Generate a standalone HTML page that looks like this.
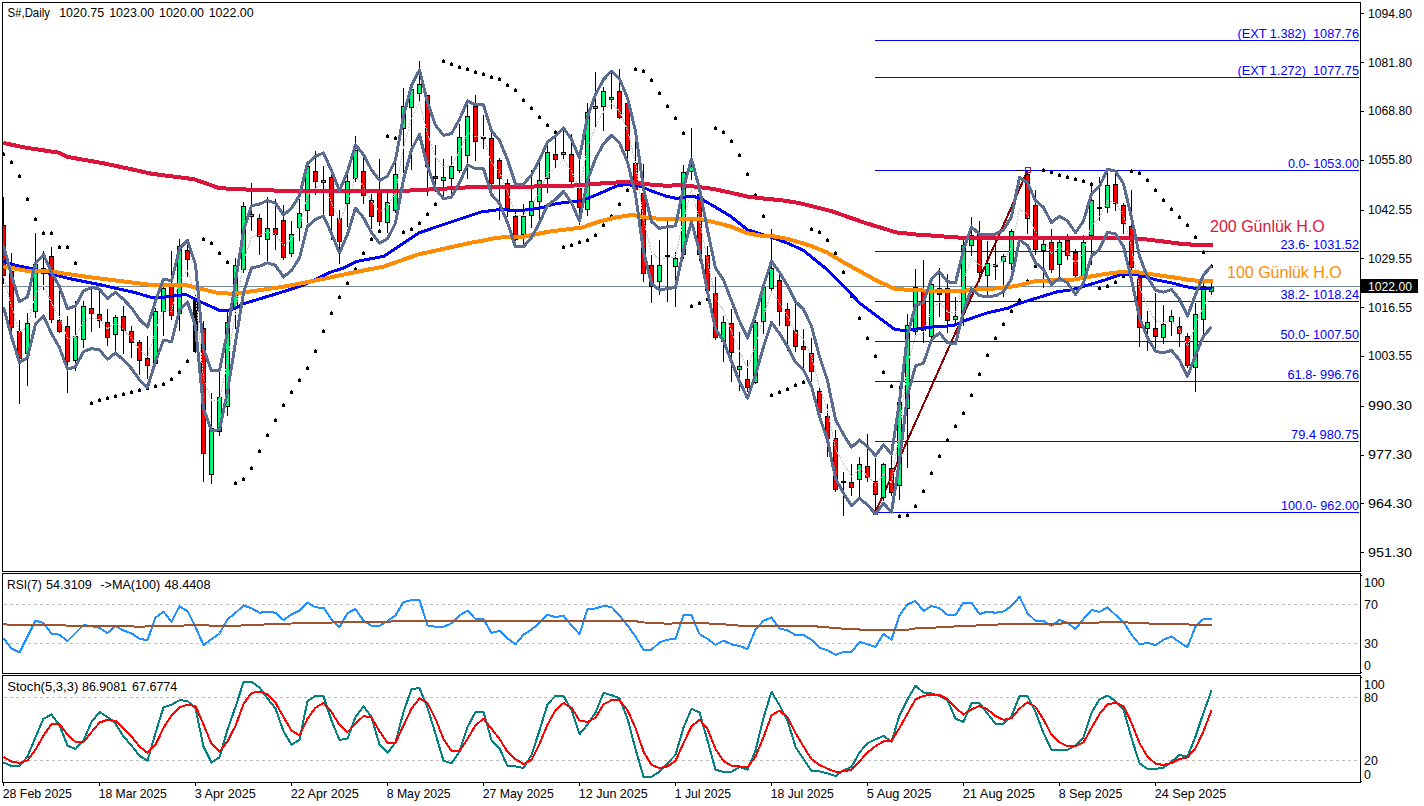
<!DOCTYPE html>
<html><head><meta charset="utf-8"><title>S# Daily</title>
<style>
html,body{margin:0;padding:0;background:#fff}
svg{display:block}
text{font-family:"Liberation Sans",sans-serif;font-size:12.4px;fill:#000}
.b{fill:#00f}
</style></head><body>
<svg width="1424" height="806" viewBox="0 0 1424 806">
<rect width="1424" height="806" fill="#fff"/>
<g shape-rendering="crispEdges">
<clipPath id="cm"><rect x="3" y="3" width="1357" height="568"/></clipPath>
<clipPath id="cr"><rect x="3" y="574" width="1357" height="99"/></clipPath>
<clipPath id="cs"><rect x="3" y="676" width="1357" height="106"/></clipPath>
<g clip-path="url(#cm)">
<rect x="3" y="286" width="1357" height="1" fill="#778899"/>
<rect x="875" y="40" width="484" height="1" fill="#00f"/>
<rect x="875" y="77" width="484" height="1" fill="#00f"/>
<rect x="875" y="170" width="484" height="1" fill="#00f"/>
<rect x="875" y="251" width="484" height="1" fill="#00f"/>
<rect x="875" y="301" width="484" height="1" fill="#00f"/>
<rect x="875" y="341" width="484" height="1" fill="#00f"/>
<rect x="875" y="381" width="484" height="1" fill="#00f"/>
<rect x="875" y="441" width="484" height="1" fill="#00f"/>
<rect x="875" y="512" width="484" height="1" fill="#00f"/>
<line x1="875.5" y1="512" x2="1027.5" y2="171" stroke="#8b0000" stroke-width="2"/>
<rect x="873" y="510" width="5" height="5" fill="#b00018"/>
<rect x="3" y="197" width="1" height="87" fill="#000"/><rect x="1" y="225" width="5" height="51" fill="#000"/><rect x="2" y="226" width="3" height="49" fill="#f00"/>
<rect x="11" y="253" width="1" height="85" fill="#000"/><rect x="9" y="271" width="5" height="57" fill="#000"/><rect x="10" y="272" width="3" height="55" fill="#f00"/>
<rect x="19" y="320" width="1" height="84" fill="#000"/><rect x="17" y="331" width="5" height="28" fill="#000"/><rect x="18" y="332" width="3" height="26" fill="#f00"/>
<rect x="27" y="313" width="1" height="73" fill="#000"/><rect x="25" y="323" width="5" height="31" fill="#000"/><rect x="26" y="324" width="3" height="29" fill="#00f57a"/>
<rect x="35" y="233" width="1" height="85" fill="#000"/><rect x="33" y="264" width="5" height="48" fill="#000"/><rect x="34" y="265" width="3" height="46" fill="#00f57a"/>
<rect x="43" y="251" width="1" height="39" fill="#000"/><rect x="41" y="268" width="5" height="6" fill="#000"/><rect x="42" y="269" width="3" height="4" fill="#f00"/>
<rect x="51" y="247" width="1" height="76" fill="#000"/><rect x="49" y="256" width="5" height="64" fill="#000"/><rect x="50" y="257" width="3" height="62" fill="#f00"/>
<rect x="59" y="290" width="1" height="43" fill="#000"/><rect x="57" y="320" width="5" height="12" fill="#000"/><rect x="58" y="321" width="3" height="10" fill="#f00"/>
<rect x="67" y="316" width="1" height="77" fill="#000"/><rect x="65" y="326" width="5" height="36" fill="#000"/><rect x="66" y="327" width="3" height="34" fill="#f00"/>
<rect x="75" y="301" width="1" height="70" fill="#000"/><rect x="73" y="336" width="5" height="25" fill="#000"/><rect x="74" y="337" width="3" height="23" fill="#00f57a"/>
<rect x="83" y="301" width="1" height="47" fill="#000"/><rect x="81" y="306" width="5" height="34" fill="#000"/><rect x="82" y="307" width="3" height="32" fill="#00f57a"/>
<rect x="91" y="288" width="1" height="44" fill="#000"/><rect x="89" y="308" width="5" height="6" fill="#000"/><rect x="90" y="309" width="3" height="4" fill="#f00"/>
<rect x="99" y="288" width="1" height="40" fill="#000"/><rect x="97" y="314" width="5" height="7" fill="#000"/><rect x="98" y="315" width="3" height="5" fill="#f00"/>
<rect x="107" y="309" width="1" height="37" fill="#000"/><rect x="105" y="322" width="5" height="16" fill="#000"/><rect x="106" y="323" width="3" height="14" fill="#f00"/>
<rect x="115" y="315" width="1" height="37" fill="#000"/><rect x="113" y="317" width="5" height="18" fill="#000"/><rect x="114" y="318" width="3" height="16" fill="#00f57a"/>
<rect x="123" y="306" width="1" height="48" fill="#000"/><rect x="121" y="316" width="5" height="15" fill="#000"/><rect x="122" y="317" width="3" height="13" fill="#f00"/>
<rect x="131" y="326" width="1" height="32" fill="#000"/><rect x="129" y="331" width="5" height="12" fill="#000"/><rect x="130" y="332" width="3" height="10" fill="#f00"/>
<rect x="139" y="340" width="1" height="35" fill="#000"/><rect x="137" y="342" width="5" height="19" fill="#000"/><rect x="138" y="343" width="3" height="17" fill="#f00"/>
<rect x="147" y="336" width="1" height="43" fill="#000"/><rect x="145" y="358" width="5" height="8" fill="#000"/><rect x="146" y="359" width="3" height="6" fill="#f00"/>
<rect x="155" y="308" width="1" height="58" fill="#000"/><rect x="153" y="311" width="5" height="53" fill="#000"/><rect x="154" y="312" width="3" height="51" fill="#00f57a"/>
<rect x="163" y="278" width="1" height="58" fill="#000"/><rect x="161" y="288" width="5" height="24" fill="#000"/><rect x="162" y="289" width="3" height="22" fill="#00f57a"/>
<rect x="171" y="251" width="1" height="69" fill="#000"/><rect x="169" y="283" width="5" height="33" fill="#000"/><rect x="170" y="284" width="3" height="31" fill="#f00"/>
<rect x="179" y="239" width="1" height="92" fill="#000"/><rect x="177" y="246" width="5" height="68" fill="#000"/><rect x="178" y="247" width="3" height="66" fill="#00f57a"/>
<rect x="187" y="240" width="1" height="37" fill="#000"/><rect x="185" y="250" width="5" height="10" fill="#000"/><rect x="186" y="251" width="3" height="8" fill="#f00"/>
<rect x="195" y="294" width="1" height="59" fill="#000"/><rect x="193" y="299" width="5" height="53" fill="#000"/><rect x="194" y="300" width="3" height="51" fill="#000"/>
<rect x="203" y="321" width="1" height="161" fill="#000"/><rect x="201" y="328" width="5" height="126" fill="#000"/><rect x="202" y="329" width="3" height="124" fill="#f00"/>
<rect x="211" y="393" width="1" height="91" fill="#000"/><rect x="209" y="428" width="5" height="47" fill="#000"/><rect x="210" y="429" width="3" height="45" fill="#00f57a"/>
<rect x="219" y="366" width="1" height="70" fill="#000"/><rect x="217" y="397" width="5" height="35" fill="#000"/><rect x="218" y="398" width="3" height="33" fill="#00f57a"/>
<rect x="227" y="312" width="1" height="104" fill="#000"/><rect x="225" y="322" width="5" height="85" fill="#000"/><rect x="226" y="323" width="3" height="83" fill="#00f57a"/>
<rect x="235" y="258" width="1" height="71" fill="#000"/><rect x="233" y="265" width="5" height="43" fill="#000"/><rect x="234" y="266" width="3" height="41" fill="#00f57a"/>
<rect x="243" y="202" width="1" height="71" fill="#000"/><rect x="241" y="206" width="5" height="64" fill="#000"/><rect x="242" y="207" width="3" height="62" fill="#00f57a"/>
<rect x="251" y="183" width="1" height="48" fill="#000"/><rect x="249" y="214" width="5" height="3" fill="#000"/><rect x="250" y="215" width="3" height="1" fill="#00f57a"/>
<rect x="259" y="214" width="1" height="41" fill="#000"/><rect x="257" y="218" width="5" height="19" fill="#000"/><rect x="258" y="219" width="3" height="17" fill="#f00"/>
<rect x="267" y="197" width="1" height="64" fill="#000"/><rect x="265" y="228" width="5" height="12" fill="#000"/><rect x="266" y="229" width="3" height="10" fill="#00f57a"/>
<rect x="275" y="199" width="1" height="51" fill="#000"/><rect x="273" y="228" width="5" height="7" fill="#000"/><rect x="274" y="229" width="3" height="5" fill="#f00"/>
<rect x="283" y="205" width="1" height="55" fill="#000"/><rect x="281" y="220" width="5" height="38" fill="#000"/><rect x="282" y="221" width="3" height="36" fill="#f00"/>
<rect x="291" y="221" width="1" height="36" fill="#000"/><rect x="289" y="234" width="5" height="20" fill="#000"/><rect x="290" y="235" width="3" height="18" fill="#00f57a"/>
<rect x="299" y="199" width="1" height="42" fill="#000"/><rect x="297" y="213" width="5" height="15" fill="#000"/><rect x="298" y="214" width="3" height="13" fill="#00f57a"/>
<rect x="307" y="164" width="1" height="59" fill="#000"/><rect x="305" y="166" width="5" height="45" fill="#000"/><rect x="306" y="167" width="3" height="43" fill="#00f57a"/>
<rect x="315" y="151" width="1" height="44" fill="#000"/><rect x="313" y="171" width="5" height="11" fill="#000"/><rect x="314" y="172" width="3" height="9" fill="#f00"/>
<rect x="323" y="166" width="1" height="48" fill="#000"/><rect x="321" y="180" width="5" height="3" fill="#000"/><rect x="322" y="181" width="3" height="1" fill="#00f57a"/>
<rect x="331" y="174" width="1" height="66" fill="#000"/><rect x="329" y="177" width="5" height="39" fill="#000"/><rect x="330" y="178" width="3" height="37" fill="#f00"/>
<rect x="339" y="210" width="1" height="54" fill="#000"/><rect x="337" y="218" width="5" height="24" fill="#000"/><rect x="338" y="219" width="3" height="22" fill="#f00"/>
<rect x="347" y="174" width="1" height="53" fill="#000"/><rect x="345" y="181" width="5" height="23" fill="#000"/><rect x="346" y="182" width="3" height="21" fill="#00f57a"/>
<rect x="355" y="136" width="1" height="46" fill="#000"/><rect x="353" y="150" width="5" height="29" fill="#000"/><rect x="354" y="151" width="3" height="27" fill="#00f57a"/>
<rect x="363" y="158" width="1" height="46" fill="#000"/><rect x="361" y="171" width="5" height="25" fill="#000"/><rect x="362" y="172" width="3" height="23" fill="#f00"/>
<rect x="371" y="194" width="1" height="35" fill="#000"/><rect x="369" y="200" width="5" height="17" fill="#000"/><rect x="370" y="201" width="3" height="15" fill="#f00"/>
<rect x="379" y="159" width="1" height="67" fill="#000"/><rect x="377" y="190" width="5" height="32" fill="#000"/><rect x="378" y="191" width="3" height="30" fill="#f00"/>
<rect x="387" y="189" width="1" height="44" fill="#000"/><rect x="385" y="202" width="5" height="21" fill="#000"/><rect x="386" y="203" width="3" height="19" fill="#00f57a"/>
<rect x="395" y="162" width="1" height="51" fill="#000"/><rect x="393" y="174" width="5" height="37" fill="#000"/><rect x="394" y="175" width="3" height="35" fill="#00f57a"/>
<rect x="403" y="88" width="1" height="85" fill="#000"/><rect x="401" y="106" width="5" height="23" fill="#000"/><rect x="402" y="107" width="3" height="21" fill="#00f57a"/>
<rect x="411" y="88" width="1" height="82" fill="#000"/><rect x="409" y="89" width="5" height="19" fill="#000"/><rect x="410" y="90" width="3" height="17" fill="#00f57a"/>
<rect x="419" y="61" width="1" height="40" fill="#000"/><rect x="417" y="84" width="5" height="10" fill="#000"/><rect x="418" y="85" width="3" height="8" fill="#00f57a"/>
<rect x="427" y="95" width="1" height="101" fill="#000"/><rect x="425" y="95" width="5" height="72" fill="#000"/><rect x="426" y="96" width="3" height="70" fill="#f00"/>
<rect x="435" y="145" width="1" height="47" fill="#000"/><rect x="433" y="176" width="5" height="3" fill="#000"/><rect x="434" y="177" width="3" height="1" fill="#f00"/>
<rect x="443" y="159" width="1" height="37" fill="#000"/><rect x="441" y="177" width="5" height="4" fill="#000"/><rect x="442" y="178" width="3" height="2" fill="#00f57a"/>
<rect x="451" y="156" width="1" height="39" fill="#000"/><rect x="449" y="166" width="5" height="13" fill="#000"/><rect x="450" y="167" width="3" height="11" fill="#00f57a"/>
<rect x="459" y="124" width="1" height="49" fill="#000"/><rect x="457" y="137" width="5" height="34" fill="#000"/><rect x="458" y="138" width="3" height="32" fill="#00f57a"/>
<rect x="467" y="101" width="1" height="78" fill="#000"/><rect x="465" y="116" width="5" height="40" fill="#000"/><rect x="466" y="117" width="3" height="38" fill="#00f57a"/>
<rect x="475" y="95" width="1" height="66" fill="#000"/><rect x="473" y="106" width="5" height="36" fill="#000"/><rect x="474" y="107" width="3" height="34" fill="#f00"/>
<rect x="483" y="115" width="1" height="34" fill="#000"/><rect x="481" y="137" width="5" height="2" fill="#000"/>
<rect x="491" y="133" width="1" height="52" fill="#000"/><rect x="489" y="138" width="5" height="46" fill="#000"/><rect x="490" y="139" width="3" height="44" fill="#f00"/>
<rect x="499" y="158" width="1" height="62" fill="#000"/><rect x="497" y="160" width="5" height="19" fill="#000"/><rect x="498" y="161" width="3" height="17" fill="#f00"/>
<rect x="507" y="179" width="1" height="38" fill="#000"/><rect x="505" y="183" width="5" height="26" fill="#000"/><rect x="506" y="184" width="3" height="24" fill="#f00"/>
<rect x="515" y="209" width="1" height="32" fill="#000"/><rect x="513" y="216" width="5" height="24" fill="#000"/><rect x="514" y="217" width="3" height="22" fill="#f00"/>
<rect x="523" y="204" width="1" height="40" fill="#000"/><rect x="521" y="216" width="5" height="19" fill="#000"/><rect x="522" y="217" width="3" height="17" fill="#00f57a"/>
<rect x="531" y="170" width="1" height="58" fill="#000"/><rect x="529" y="201" width="5" height="15" fill="#000"/><rect x="530" y="202" width="3" height="13" fill="#00f57a"/>
<rect x="539" y="156" width="1" height="63" fill="#000"/><rect x="537" y="180" width="5" height="22" fill="#000"/><rect x="538" y="181" width="3" height="20" fill="#00f57a"/>
<rect x="547" y="144" width="1" height="49" fill="#000"/><rect x="545" y="152" width="5" height="27" fill="#000"/><rect x="546" y="153" width="3" height="25" fill="#00f57a"/>
<rect x="555" y="134" width="1" height="34" fill="#000"/><rect x="553" y="154" width="5" height="6" fill="#000"/><rect x="554" y="155" width="3" height="4" fill="#f00"/>
<rect x="563" y="131" width="1" height="29" fill="#000"/><rect x="561" y="152" width="5" height="3" fill="#000"/><rect x="562" y="153" width="3" height="1" fill="#00f57a"/>
<rect x="571" y="134" width="1" height="50" fill="#000"/><rect x="569" y="154" width="5" height="28" fill="#000"/><rect x="570" y="155" width="3" height="26" fill="#f00"/>
<rect x="579" y="158" width="1" height="67" fill="#000"/><rect x="577" y="188" width="5" height="20" fill="#000"/><rect x="578" y="189" width="3" height="18" fill="#f00"/>
<rect x="587" y="103" width="1" height="113" fill="#000"/><rect x="585" y="112" width="5" height="98" fill="#000"/><rect x="586" y="113" width="3" height="96" fill="#00f57a"/>
<rect x="595" y="72" width="1" height="55" fill="#000"/><rect x="593" y="106" width="5" height="3" fill="#000"/><rect x="594" y="107" width="3" height="1" fill="#00f57a"/>
<rect x="603" y="87" width="1" height="44" fill="#000"/><rect x="601" y="91" width="5" height="16" fill="#000"/><rect x="602" y="92" width="3" height="14" fill="#00f57a"/>
<rect x="611" y="72" width="1" height="37" fill="#000"/><rect x="609" y="97" width="5" height="3" fill="#000"/><rect x="610" y="98" width="3" height="1" fill="#00f57a"/>
<rect x="619" y="69" width="1" height="50" fill="#000"/><rect x="617" y="91" width="5" height="27" fill="#000"/><rect x="618" y="92" width="3" height="25" fill="#f00"/>
<rect x="627" y="101" width="1" height="57" fill="#000"/><rect x="625" y="103" width="5" height="48" fill="#000"/><rect x="626" y="104" width="3" height="46" fill="#f00"/>
<rect x="635" y="142" width="1" height="53" fill="#000"/><rect x="633" y="163" width="5" height="27" fill="#000"/><rect x="634" y="164" width="3" height="25" fill="#f00"/>
<rect x="643" y="164" width="1" height="118" fill="#000"/><rect x="641" y="193" width="5" height="81" fill="#000"/><rect x="642" y="194" width="3" height="79" fill="#f00"/>
<rect x="651" y="255" width="1" height="48" fill="#000"/><rect x="649" y="265" width="5" height="22" fill="#000"/><rect x="650" y="266" width="3" height="20" fill="#f00"/>
<rect x="659" y="240" width="1" height="55" fill="#000"/><rect x="657" y="265" width="5" height="17" fill="#000"/><rect x="658" y="266" width="3" height="15" fill="#00f57a"/>
<rect x="667" y="221" width="1" height="81" fill="#000"/><rect x="665" y="255" width="5" height="2" fill="#000"/>
<rect x="675" y="252" width="1" height="55" fill="#000"/><rect x="673" y="258" width="5" height="9" fill="#000"/><rect x="674" y="259" width="3" height="7" fill="#00f57a"/>
<rect x="683" y="165" width="1" height="94" fill="#000"/><rect x="681" y="172" width="5" height="83" fill="#000"/><rect x="682" y="173" width="3" height="81" fill="#00f57a"/>
<rect x="691" y="128" width="1" height="52" fill="#000"/><rect x="689" y="166" width="5" height="6" fill="#000"/><rect x="690" y="167" width="3" height="4" fill="#00f57a"/>
<rect x="699" y="188" width="1" height="73" fill="#000"/><rect x="697" y="194" width="5" height="61" fill="#000"/><rect x="698" y="195" width="3" height="59" fill="#f00"/>
<rect x="707" y="246" width="1" height="46" fill="#000"/><rect x="705" y="255" width="5" height="36" fill="#000"/><rect x="706" y="256" width="3" height="34" fill="#f00"/>
<rect x="715" y="277" width="1" height="63" fill="#000"/><rect x="713" y="293" width="5" height="45" fill="#000"/><rect x="714" y="294" width="3" height="43" fill="#f00"/>
<rect x="723" y="316" width="1" height="46" fill="#000"/><rect x="721" y="322" width="5" height="20" fill="#000"/><rect x="722" y="323" width="3" height="18" fill="#00f57a"/>
<rect x="731" y="309" width="1" height="73" fill="#000"/><rect x="729" y="323" width="5" height="30" fill="#000"/><rect x="730" y="324" width="3" height="28" fill="#f00"/>
<rect x="739" y="332" width="1" height="59" fill="#000"/><rect x="737" y="366" width="5" height="4" fill="#000"/><rect x="738" y="367" width="3" height="2" fill="#00f57a"/>
<rect x="747" y="360" width="1" height="32" fill="#000"/><rect x="745" y="379" width="5" height="9" fill="#000"/><rect x="746" y="380" width="3" height="7" fill="#f00"/>
<rect x="755" y="320" width="1" height="64" fill="#000"/><rect x="753" y="322" width="5" height="61" fill="#000"/><rect x="754" y="323" width="3" height="59" fill="#00f57a"/>
<rect x="763" y="284" width="1" height="50" fill="#000"/><rect x="761" y="287" width="5" height="35" fill="#000"/><rect x="762" y="288" width="3" height="33" fill="#00f57a"/>
<rect x="771" y="229" width="1" height="63" fill="#000"/><rect x="769" y="268" width="5" height="21" fill="#000"/><rect x="770" y="269" width="3" height="19" fill="#00f57a"/>
<rect x="779" y="274" width="1" height="52" fill="#000"/><rect x="777" y="280" width="5" height="32" fill="#000"/><rect x="778" y="281" width="3" height="30" fill="#f00"/>
<rect x="787" y="303" width="1" height="48" fill="#000"/><rect x="785" y="309" width="5" height="17" fill="#000"/><rect x="786" y="310" width="3" height="15" fill="#f00"/>
<rect x="795" y="303" width="1" height="49" fill="#000"/><rect x="793" y="330" width="5" height="17" fill="#000"/><rect x="794" y="331" width="3" height="15" fill="#f00"/>
<rect x="803" y="329" width="1" height="40" fill="#000"/><rect x="801" y="346" width="5" height="4" fill="#000"/><rect x="802" y="347" width="3" height="2" fill="#f00"/>
<rect x="811" y="338" width="1" height="44" fill="#000"/><rect x="809" y="353" width="5" height="19" fill="#000"/><rect x="810" y="354" width="3" height="17" fill="#f00"/>
<rect x="819" y="386" width="1" height="28" fill="#000"/><rect x="817" y="391" width="5" height="22" fill="#000"/><rect x="818" y="392" width="3" height="20" fill="#f00"/>
<rect x="827" y="404" width="1" height="53" fill="#000"/><rect x="825" y="416" width="5" height="23" fill="#000"/><rect x="826" y="417" width="3" height="21" fill="#f00"/>
<rect x="835" y="430" width="1" height="62" fill="#000"/><rect x="833" y="438" width="5" height="52" fill="#000"/><rect x="834" y="439" width="3" height="50" fill="#f00"/>
<rect x="843" y="472" width="1" height="44" fill="#000"/><rect x="841" y="481" width="5" height="2" fill="#000"/>
<rect x="851" y="464" width="1" height="32" fill="#000"/><rect x="849" y="482" width="5" height="6" fill="#000"/><rect x="850" y="483" width="3" height="4" fill="#f00"/>
<rect x="859" y="457" width="1" height="41" fill="#000"/><rect x="857" y="464" width="5" height="16" fill="#000"/><rect x="858" y="465" width="3" height="14" fill="#00f57a"/>
<rect x="867" y="434" width="1" height="48" fill="#000"/><rect x="865" y="466" width="5" height="12" fill="#000"/><rect x="866" y="467" width="3" height="10" fill="#f00"/>
<rect x="875" y="458" width="1" height="54" fill="#000"/><rect x="873" y="481" width="5" height="14" fill="#000"/><rect x="874" y="482" width="3" height="12" fill="#f00"/>
<rect x="883" y="463" width="1" height="38" fill="#000"/><rect x="881" y="464" width="5" height="34" fill="#000"/><rect x="882" y="465" width="3" height="32" fill="#00f57a"/>
<rect x="891" y="456" width="1" height="40" fill="#000"/><rect x="889" y="468" width="5" height="25" fill="#000"/><rect x="890" y="469" width="3" height="23" fill="#f00"/>
<rect x="899" y="386" width="1" height="114" fill="#000"/><rect x="897" y="402" width="5" height="84" fill="#000"/><rect x="898" y="403" width="3" height="82" fill="#00f57a"/>
<rect x="907" y="314" width="1" height="154" fill="#000"/><rect x="905" y="325" width="5" height="84" fill="#000"/><rect x="906" y="326" width="3" height="82" fill="#00f57a"/>
<rect x="915" y="269" width="1" height="66" fill="#000"/><rect x="913" y="287" width="5" height="45" fill="#000"/><rect x="914" y="288" width="3" height="43" fill="#00f57a"/>
<rect x="923" y="260" width="1" height="83" fill="#000"/><rect x="921" y="291" width="5" height="40" fill="#000"/><rect x="922" y="292" width="3" height="38" fill="#f00"/>
<rect x="931" y="283" width="1" height="58" fill="#000"/><rect x="929" y="284" width="5" height="53" fill="#000"/><rect x="930" y="285" width="3" height="51" fill="#00f57a"/>
<rect x="939" y="268" width="1" height="49" fill="#000"/><rect x="937" y="288" width="5" height="7" fill="#000"/><rect x="938" y="289" width="3" height="5" fill="#f00"/>
<rect x="947" y="274" width="1" height="59" fill="#000"/><rect x="945" y="288" width="5" height="33" fill="#000"/><rect x="946" y="289" width="3" height="31" fill="#f00"/>
<rect x="955" y="297" width="1" height="29" fill="#000"/><rect x="953" y="316" width="5" height="4" fill="#000"/><rect x="954" y="317" width="3" height="2" fill="#00f57a"/>
<rect x="963" y="240" width="1" height="86" fill="#000"/><rect x="961" y="245" width="5" height="68" fill="#000"/><rect x="962" y="246" width="3" height="66" fill="#00f57a"/>
<rect x="971" y="217" width="1" height="39" fill="#000"/><rect x="969" y="235" width="5" height="11" fill="#000"/><rect x="970" y="236" width="3" height="9" fill="#00f57a"/>
<rect x="979" y="221" width="1" height="61" fill="#000"/><rect x="977" y="233" width="5" height="40" fill="#000"/><rect x="978" y="234" width="3" height="38" fill="#f00"/>
<rect x="987" y="241" width="1" height="56" fill="#000"/><rect x="985" y="263" width="5" height="13" fill="#000"/><rect x="986" y="264" width="3" height="11" fill="#00f57a"/>
<rect x="995" y="242" width="1" height="38" fill="#000"/><rect x="993" y="264" width="5" height="3" fill="#000"/><rect x="994" y="265" width="3" height="1" fill="#f00"/>
<rect x="1003" y="254" width="1" height="43" fill="#000"/><rect x="1001" y="256" width="5" height="6" fill="#000"/><rect x="1002" y="257" width="3" height="4" fill="#00f57a"/>
<rect x="1011" y="229" width="1" height="41" fill="#000"/><rect x="1009" y="231" width="5" height="33" fill="#000"/><rect x="1010" y="232" width="3" height="31" fill="#00f57a"/>
<rect x="1019" y="170" width="1" height="1" fill="#000"/><rect x="1017" y="170" width="5" height="1" fill="#000"/>
<rect x="1027" y="170" width="1" height="64" fill="#000"/><rect x="1025" y="174" width="5" height="45" fill="#000"/><rect x="1026" y="175" width="3" height="43" fill="#f00"/>
<rect x="1035" y="190" width="1" height="65" fill="#000"/><rect x="1033" y="205" width="5" height="45" fill="#000"/><rect x="1034" y="206" width="3" height="43" fill="#f00"/>
<rect x="1043" y="240" width="1" height="48" fill="#000"/><rect x="1041" y="244" width="5" height="7" fill="#000"/><rect x="1042" y="245" width="3" height="5" fill="#00f57a"/>
<rect x="1051" y="229" width="1" height="44" fill="#000"/><rect x="1049" y="242" width="5" height="28" fill="#000"/><rect x="1050" y="243" width="3" height="26" fill="#f00"/>
<rect x="1059" y="238" width="1" height="39" fill="#000"/><rect x="1057" y="242" width="5" height="23" fill="#000"/><rect x="1058" y="243" width="3" height="21" fill="#00f57a"/>
<rect x="1067" y="234" width="1" height="26" fill="#000"/><rect x="1065" y="240" width="5" height="16" fill="#000"/><rect x="1066" y="241" width="3" height="14" fill="#f00"/>
<rect x="1075" y="249" width="1" height="28" fill="#000"/><rect x="1073" y="252" width="5" height="24" fill="#000"/><rect x="1074" y="253" width="3" height="22" fill="#f00"/>
<rect x="1083" y="235" width="1" height="43" fill="#000"/><rect x="1081" y="242" width="5" height="35" fill="#000"/><rect x="1082" y="243" width="3" height="33" fill="#00f57a"/>
<rect x="1091" y="182" width="1" height="83" fill="#000"/><rect x="1089" y="200" width="5" height="36" fill="#000"/><rect x="1090" y="201" width="3" height="34" fill="#00f57a"/>
<rect x="1099" y="177" width="1" height="44" fill="#000"/><rect x="1097" y="207" width="5" height="2" fill="#000"/>
<rect x="1107" y="170" width="1" height="43" fill="#000"/><rect x="1105" y="185" width="5" height="23" fill="#000"/><rect x="1106" y="186" width="3" height="21" fill="#00f57a"/>
<rect x="1115" y="171" width="1" height="40" fill="#000"/><rect x="1113" y="184" width="5" height="20" fill="#000"/><rect x="1114" y="185" width="3" height="18" fill="#f00"/>
<rect x="1123" y="203" width="1" height="31" fill="#000"/><rect x="1121" y="205" width="5" height="19" fill="#000"/><rect x="1122" y="206" width="3" height="17" fill="#f00"/>
<rect x="1131" y="190" width="1" height="80" fill="#000"/><rect x="1129" y="226" width="5" height="42" fill="#000"/><rect x="1130" y="227" width="3" height="40" fill="#f00"/>
<rect x="1139" y="276" width="1" height="71" fill="#000"/><rect x="1137" y="277" width="5" height="51" fill="#000"/><rect x="1138" y="278" width="3" height="49" fill="#f00"/>
<rect x="1147" y="311" width="1" height="40" fill="#000"/><rect x="1145" y="322" width="5" height="7" fill="#000"/><rect x="1146" y="323" width="3" height="5" fill="#00f57a"/>
<rect x="1155" y="293" width="1" height="56" fill="#000"/><rect x="1153" y="328" width="5" height="9" fill="#000"/><rect x="1154" y="329" width="3" height="7" fill="#f00"/>
<rect x="1163" y="305" width="1" height="39" fill="#000"/><rect x="1161" y="324" width="5" height="14" fill="#000"/><rect x="1162" y="325" width="3" height="12" fill="#00f57a"/>
<rect x="1171" y="310" width="1" height="26" fill="#000"/><rect x="1169" y="316" width="5" height="6" fill="#000"/><rect x="1170" y="317" width="3" height="4" fill="#00f57a"/>
<rect x="1179" y="317" width="1" height="30" fill="#000"/><rect x="1177" y="326" width="5" height="8" fill="#000"/><rect x="1178" y="327" width="3" height="6" fill="#f00"/>
<rect x="1187" y="333" width="1" height="35" fill="#000"/><rect x="1185" y="336" width="5" height="30" fill="#000"/><rect x="1186" y="337" width="3" height="28" fill="#f00"/>
<rect x="1195" y="303" width="1" height="89" fill="#000"/><rect x="1193" y="314" width="5" height="54" fill="#000"/><rect x="1194" y="315" width="3" height="52" fill="#00f57a"/>
<rect x="1203" y="274" width="1" height="62" fill="#000"/><rect x="1201" y="286" width="5" height="34" fill="#000"/><rect x="1202" y="287" width="3" height="32" fill="#00f57a"/>
<rect x="1211" y="283" width="1" height="12" fill="#000"/><rect x="1209" y="287" width="5" height="5" fill="#000"/><rect x="1210" y="288" width="3" height="3" fill="#00f57a"/>
<path d="M3 152h1v1h1v3h-3v-3h1z" fill="#000"/><path d="M11 160h1v1h1v3h-3v-3h1z" fill="#000"/><path d="M19 174h1v1h1v3h-3v-3h1z" fill="#000"/><path d="M27 197h1v1h1v3h-3v-3h1z" fill="#000"/><path d="M35 217h1v1h1v3h-3v-3h1z" fill="#000"/><path d="M43 231h1v1h1v3h-3v-3h1z" fill="#000"/><path d="M51 231h1v1h1v3h-3v-3h1z" fill="#000"/><path d="M59 245h1v1h1v3h-3v-3h1z" fill="#000"/><path d="M67 245h1v1h1v3h-3v-3h1z" fill="#000"/><path d="M75 261h1v1h1v3h-3v-3h1z" fill="#000"/><path d="M91 401h1v1h1v3h-3v-3h1z" fill="#000"/><path d="M99 398h1v1h1v3h-3v-3h1z" fill="#000"/><path d="M107 396h1v1h1v3h-3v-3h1z" fill="#000"/><path d="M115 394h1v1h1v3h-3v-3h1z" fill="#000"/><path d="M123 392h1v1h1v3h-3v-3h1z" fill="#000"/><path d="M131 390h1v1h1v3h-3v-3h1z" fill="#000"/><path d="M139 388h1v1h1v3h-3v-3h1z" fill="#000"/><path d="M147 386h1v1h1v3h-3v-3h1z" fill="#000"/><path d="M155 384h1v1h1v3h-3v-3h1z" fill="#000"/><path d="M163 382h1v1h1v3h-3v-3h1z" fill="#000"/><path d="M171 377h1v1h1v3h-3v-3h1z" fill="#000"/><path d="M179 370h1v1h1v3h-3v-3h1z" fill="#000"/><path d="M187 359h1v1h1v3h-3v-3h1z" fill="#000"/><path d="M203 237h1v1h1v3h-3v-3h1z" fill="#000"/><path d="M211 241h1v1h1v3h-3v-3h1z" fill="#000"/><path d="M219 251h1v1h1v3h-3v-3h1z" fill="#000"/><path d="M227 260h1v1h1v3h-3v-3h1z" fill="#000"/><path d="M235 481h1v1h1v3h-3v-3h1z" fill="#000"/><path d="M243 477h1v1h1v3h-3v-3h1z" fill="#000"/><path d="M251 466h1v1h1v3h-3v-3h1z" fill="#000"/><path d="M259 449h1v1h1v3h-3v-3h1z" fill="#000"/><path d="M267 433h1v1h1v3h-3v-3h1z" fill="#000"/><path d="M275 418h1v1h1v3h-3v-3h1z" fill="#000"/><path d="M283 403h1v1h1v3h-3v-3h1z" fill="#000"/><path d="M291 390h1v1h1v3h-3v-3h1z" fill="#000"/><path d="M299 378h1v1h1v3h-3v-3h1z" fill="#000"/><path d="M307 366h1v1h1v3h-3v-3h1z" fill="#000"/><path d="M315 349h1v1h1v3h-3v-3h1z" fill="#000"/><path d="M323 329h1v1h1v3h-3v-3h1z" fill="#000"/><path d="M331 311h1v1h1v3h-3v-3h1z" fill="#000"/><path d="M339 295h1v1h1v3h-3v-3h1z" fill="#000"/><path d="M347 281h1v1h1v3h-3v-3h1z" fill="#000"/><path d="M355 267h1v1h1v3h-3v-3h1z" fill="#000"/><path d="M363 251h1v1h1v3h-3v-3h1z" fill="#000"/><path d="M371 237h1v1h1v3h-3v-3h1z" fill="#000"/><path d="M379 229h1v1h1v3h-3v-3h1z" fill="#000"/><path d="M387 134h1v1h1v3h-3v-3h1z" fill="#000"/><path d="M395 136h1v1h1v3h-3v-3h1z" fill="#000"/><path d="M403 230h1v1h1v3h-3v-3h1z" fill="#000"/><path d="M411 227h1v1h1v3h-3v-3h1z" fill="#000"/><path d="M419 221h1v1h1v3h-3v-3h1z" fill="#000"/><path d="M427 212h1v1h1v3h-3v-3h1z" fill="#000"/><path d="M435 202h1v1h1v3h-3v-3h1z" fill="#000"/><path d="M443 59h1v1h1v3h-3v-3h1z" fill="#000"/><path d="M451 62h1v1h1v3h-3v-3h1z" fill="#000"/><path d="M459 65h1v1h1v3h-3v-3h1z" fill="#000"/><path d="M467 67h1v1h1v3h-3v-3h1z" fill="#000"/><path d="M475 70h1v1h1v3h-3v-3h1z" fill="#000"/><path d="M483 72h1v1h1v3h-3v-3h1z" fill="#000"/><path d="M491 75h1v1h1v3h-3v-3h1z" fill="#000"/><path d="M499 77h1v1h1v3h-3v-3h1z" fill="#000"/><path d="M507 83h1v1h1v3h-3v-3h1z" fill="#000"/><path d="M515 88h1v1h1v3h-3v-3h1z" fill="#000"/><path d="M523 98h1v1h1v3h-3v-3h1z" fill="#000"/><path d="M531 106h1v1h1v3h-3v-3h1z" fill="#000"/><path d="M539 115h1v1h1v3h-3v-3h1z" fill="#000"/><path d="M547 123h1v1h1v3h-3v-3h1z" fill="#000"/><path d="M555 130h1v1h1v3h-3v-3h1z" fill="#000"/><path d="M563 245h1v1h1v3h-3v-3h1z" fill="#000"/><path d="M571 243h1v1h1v3h-3v-3h1z" fill="#000"/><path d="M579 240h1v1h1v3h-3v-3h1z" fill="#000"/><path d="M587 238h1v1h1v3h-3v-3h1z" fill="#000"/><path d="M595 233h1v1h1v3h-3v-3h1z" fill="#000"/><path d="M603 223h1v1h1v3h-3v-3h1z" fill="#000"/><path d="M611 214h1v1h1v3h-3v-3h1z" fill="#000"/><path d="M619 202h1v1h1v3h-3v-3h1z" fill="#000"/><path d="M627 188h1v1h1v3h-3v-3h1z" fill="#000"/><path d="M635 67h1v1h1v3h-3v-3h1z" fill="#000"/><path d="M643 69h1v1h1v3h-3v-3h1z" fill="#000"/><path d="M651 78h1v1h1v3h-3v-3h1z" fill="#000"/><path d="M659 91h1v1h1v3h-3v-3h1z" fill="#000"/><path d="M667 104h1v1h1v3h-3v-3h1z" fill="#000"/><path d="M675 116h1v1h1v3h-3v-3h1z" fill="#000"/><path d="M683 131h1v1h1v3h-3v-3h1z" fill="#000"/><path d="M691 304h1v1h1v3h-3v-3h1z" fill="#000"/><path d="M699 301h1v1h1v3h-3v-3h1z" fill="#000"/><path d="M707 297h1v1h1v3h-3v-3h1z" fill="#000"/><path d="M715 126h1v1h1v3h-3v-3h1z" fill="#000"/><path d="M723 130h1v1h1v3h-3v-3h1z" fill="#000"/><path d="M731 139h1v1h1v3h-3v-3h1z" fill="#000"/><path d="M739 153h1v1h1v3h-3v-3h1z" fill="#000"/><path d="M747 172h1v1h1v3h-3v-3h1z" fill="#000"/><path d="M755 193h1v1h1v3h-3v-3h1z" fill="#000"/><path d="M763 214h1v1h1v3h-3v-3h1z" fill="#000"/><path d="M771 393h1v1h1v3h-3v-3h1z" fill="#000"/><path d="M779 390h1v1h1v3h-3v-3h1z" fill="#000"/><path d="M787 387h1v1h1v3h-3v-3h1z" fill="#000"/><path d="M795 383h1v1h1v3h-3v-3h1z" fill="#000"/><path d="M803 380h1v1h1v3h-3v-3h1z" fill="#000"/><path d="M811 227h1v1h1v3h-3v-3h1z" fill="#000"/><path d="M819 230h1v1h1v3h-3v-3h1z" fill="#000"/><path d="M827 238h1v1h1v3h-3v-3h1z" fill="#000"/><path d="M835 251h1v1h1v3h-3v-3h1z" fill="#000"/><path d="M843 270h1v1h1v3h-3v-3h1z" fill="#000"/><path d="M851 294h1v1h1v3h-3v-3h1z" fill="#000"/><path d="M859 316h1v1h1v3h-3v-3h1z" fill="#000"/><path d="M867 336h1v1h1v3h-3v-3h1z" fill="#000"/><path d="M875 354h1v1h1v3h-3v-3h1z" fill="#000"/><path d="M883 370h1v1h1v3h-3v-3h1z" fill="#000"/><path d="M891 384h1v1h1v3h-3v-3h1z" fill="#000"/><path d="M899 514h1v1h1v3h-3v-3h1z" fill="#000"/><path d="M907 513h1v1h1v3h-3v-3h1z" fill="#000"/><path d="M915 504h1v1h1v3h-3v-3h1z" fill="#000"/><path d="M923 489h1v1h1v3h-3v-3h1z" fill="#000"/><path d="M931 471h1v1h1v3h-3v-3h1z" fill="#000"/><path d="M939 454h1v1h1v3h-3v-3h1z" fill="#000"/><path d="M947 438h1v1h1v3h-3v-3h1z" fill="#000"/><path d="M955 424h1v1h1v3h-3v-3h1z" fill="#000"/><path d="M963 411h1v1h1v3h-3v-3h1z" fill="#000"/><path d="M971 393h1v1h1v3h-3v-3h1z" fill="#000"/><path d="M979 372h1v1h1v3h-3v-3h1z" fill="#000"/><path d="M987 353h1v1h1v3h-3v-3h1z" fill="#000"/><path d="M995 336h1v1h1v3h-3v-3h1z" fill="#000"/><path d="M1003 322h1v1h1v3h-3v-3h1z" fill="#000"/><path d="M1011 309h1v1h1v3h-3v-3h1z" fill="#000"/><path d="M1019 298h1v1h1v3h-3v-3h1z" fill="#000"/><path d="M1027 279h1v1h1v3h-3v-3h1z" fill="#000"/><path d="M1035 264h1v1h1v3h-3v-3h1z" fill="#000"/><path d="M1043 168h1v1h1v3h-3v-3h1z" fill="#000"/><path d="M1051 170h1v1h1v3h-3v-3h1z" fill="#000"/><path d="M1059 173h1v1h1v3h-3v-3h1z" fill="#000"/><path d="M1067 175h1v1h1v3h-3v-3h1z" fill="#000"/><path d="M1075 177h1v1h1v3h-3v-3h1z" fill="#000"/><path d="M1083 179h1v1h1v3h-3v-3h1z" fill="#000"/><path d="M1091 182h1v1h1v3h-3v-3h1z" fill="#000"/><path d="M1099 286h1v1h1v3h-3v-3h1z" fill="#000"/><path d="M1107 284h1v1h1v3h-3v-3h1z" fill="#000"/><path d="M1115 280h1v1h1v3h-3v-3h1z" fill="#000"/><path d="M1123 274h1v1h1v3h-3v-3h1z" fill="#000"/><path d="M1131 169h1v1h1v3h-3v-3h1z" fill="#000"/><path d="M1139 171h1v1h1v3h-3v-3h1z" fill="#000"/><path d="M1147 178h1v1h1v3h-3v-3h1z" fill="#000"/><path d="M1155 188h1v1h1v3h-3v-3h1z" fill="#000"/><path d="M1163 198h1v1h1v3h-3v-3h1z" fill="#000"/><path d="M1171 207h1v1h1v3h-3v-3h1z" fill="#000"/><path d="M1179 215h1v1h1v3h-3v-3h1z" fill="#000"/><path d="M1187 223h1v1h1v3h-3v-3h1z" fill="#000"/><path d="M1195 235h1v1h1v3h-3v-3h1z" fill="#000"/><path d="M1203 250h1v1h1v3h-3v-3h1z" fill="#000"/><path d="M1211 264h1v1h1v3h-3v-3h1z" fill="#000"/>
<polyline points="3.5,276.1 11.5,306.2 19.5,332.2 27.5,327.2 35.5,293.6 43.5,285.3 51.5,302.9 59.5,317.2 67.5,338.9 75.5,336.4 83.5,321.3 91.5,318 99.5,319.6 107.5,328.9 115.5,322.6 123.5,329.7 131.5,338.1 139.5,349.8 147.5,357.3 155.5,331.3 163.5,309.6 171.5,311.3 179.5,279.5 187.5,271.1 195.5,295.3 203.5,378.7 211.5,400.8 219.5,400 227.5,361.7 235.5,311.8 243.5,261.9 251.5,236.8 259.5,235.1 267.5,231.7 275.5,234.3 283.5,246 291.5,239.3 299.5,226.8 307.5,194.9 315.5,187.9 323.5,184.5 331.5,202.2 339.5,221.7 347.5,203 355.5,176.5 363.5,186.2 371.5,201.3 379.5,211.7 387.5,207.5 395.5,191.6 403.5,147.7 411.5,117.6 419.5,102.2 427.5,134.3 435.5,156.9 443.5,167 451.5,165.3 459.5,151.1 467.5,132.9 475.5,136.8 483.5,136.8 491.5,162.7 499.5,171.9 507.5,191.2 515.5,215.4 523.5,215.4 531.5,206.2 539.5,191.2 547.5,173.6 555.5,167.8 563.5,159.7 571.5,171.1 579.5,189.5 587.5,148.5 595.5,126.7 603.5,111.6 611.5,103.3 619.5,110.8 627.5,130.1 635.5,162.7 643.5,219.9 651.5,252.6 659.5,259.3 667.5,257.6 675.5,256.7 683.5,219 691.5,190.4 699.5,219.9 707.5,260.9 715.5,298.6 723.5,310.3 731.5,331.2 739.5,351.3 747.5,368.1 755.5,344.6 763.5,316.2 771.5,291.9 779.5,302.8 787.5,316.2 795.5,332 803.5,339.6 811.5,356.3 819.5,386.5 827.5,410.3 835.5,448.9 843.5,463.9 851.5,476.5 859.5,469.2 867.5,475.7 875.5,484.8 883.5,474 891.5,483.2 899.5,431.2 907.5,365.2 915.5,335.7 923.5,332.8 931.5,309.4 939.5,302.2 947.5,312.2 955.5,313.4 963.5,280.5 971.5,257.8 979.5,265 987.5,265.4 995.5,265 1003.5,260.8 1011.5,247.8 1019.5,208.6 1027.5,214.2 1035.5,231.7 1043.5,238.5 1051.5,253.6 1059.5,247.2 1067.5,251.9 1075.5,263.6 1083.5,251.9 1091.5,225.1 1099.5,217.6 1107.5,200.8 1115.5,202.5 1123.5,215.1 1131.5,248.5 1139.5,287 1147.5,307.4 1155.5,320.8 1163.5,322.5 1171.5,319.9 1179.5,329.6 1187.5,346.2 1195.5,325 1203.5,305.5 1211.5,296.5" fill="none" stroke="#c6c6c6" stroke-width="1" stroke-dasharray="2 1"/>
<polyline points="3.4,261.4 16.9,265.6 33.8,268.9 67.5,278.2 101.3,285 135,292.6 152,297.6 168.8,296.8 185.7,294.3 202.5,302.7 219.4,310.3 227.8,310.3 235,308.5 243.3,303.8 282.6,291.9 304.6,284.6 330,272.4 343.4,268 356.9,261.4 383.9,256.3 419.3,232.7 472,215 480.9,212 497.8,209.8 523,210.3 540,208.1 556.8,203.5 582,200.5 599,193.8 616,186.2 626,184.5 641.2,186.2 649.7,190.4 666.5,196.3 676.7,198.5 685,197 691.3,196.1 699.4,197.8 713.8,206.2 730.6,216.3 747.5,229.8 761,234.1 769.7,236.8 786.5,242.7 803.4,250.3 809.8,255.6 826.6,269.1 843.5,286 860.4,303.7 877.3,316.3 894.1,329 904.3,330.7 927.9,327.3 953.2,325.6 965,320.5 987,313 1009,307.9 1016,304.5 1056,292.1 1073,289.5 1089.8,284.5 1104.8,280 1121.7,274.2 1138.5,275 1148,277.5 1155.4,279.6 1174,283.5 1185,286.5 1195,288.4 1212.5,288.6" fill="none" stroke="#00f" stroke-width="3" stroke-linejoin="round"/>
<polyline points="3.4,266.4 25.3,270.6 50.6,271.5 84.4,276.5 118,280.8 152,285 168.8,285.5 185.7,285 202.5,289.2 219.4,293.4 235.4,293.6 282.6,286.9 304.6,282.7 333.3,276.8 350,273.2 383.9,266.5 417.7,254.6 472,242.5 480.9,241 497.8,237.6 523,236.8 548.4,231.7 582,227.5 599,221.6 615.9,217.4 632.8,214.9 641.2,216.5 649.7,218.2 675,219.4 690,219.2 699.4,218.9 713.8,222.2 730.6,226.5 747.5,233.2 761,235.7 774.5,236.5 788,239.1 803.4,243.5 809.8,245.4 826.6,252.2 843.5,262.3 860.4,271.6 877.3,280.9 894.1,288.5 911,290.2 944.8,291 961.7,291 978.5,289.3 995.4,288.5 1016,286 1037,280.8 1071,280 1104.8,274 1121.7,271.9 1138.5,272.4 1155.4,274.9 1176,277.7 1191,280.3 1200,280.8 1212.5,280.8" fill="none" stroke="#ff8c00" stroke-width="4" stroke-linejoin="round"/>
<polyline points="3.4,143 25.3,147.6 59,152.7 67.5,156.9 101,162.8 135,170 152,173.8 194,179.2 219.4,188.1 240,189.3 282.6,190.8 350,191.4 400.8,191 434.5,189.2 472,187.1 514.6,186.7 565.3,186.2 599,183.6 626,181.9 649.6,184.5 666.5,185.8 680,185.1 696.9,186.8 713.8,189 730.6,192.7 747.5,196.6 764.4,198.6 781.3,200.3 798.1,202.8 815,207 831.9,211.3 848.8,217.2 865.7,223.1 882.5,228.1 896,232.4 920,234.9 928,235.3 961.7,237.8 1016,238.4 1060,238.1 1100,237.6 1130,237.8 1146.6,239.5 1163.5,241.5 1180,243.7 1197,245 1212.5,245" fill="none" stroke="#dc143c" stroke-width="4" stroke-linejoin="round"/>
<polyline points="3.5,245.3 11.5,275.7 19.5,301.9 27.5,296.8 35.5,263 43.5,254.6 51.5,272.3 59.5,286.7 67.5,308.6 75.5,306.1 83.5,290.9 91.5,287.5 99.5,289.2 107.5,298.5 115.5,292.2 123.5,299.3 131.5,307.8 139.5,319.6 147.5,327.2 155.5,301 163.5,279.1 171.5,280.8 179.5,248.7 187.5,240.3 195.5,264.7 203.5,348.7 211.5,371 219.5,370.2 227.5,331.6 235.5,281.3 243.5,231 251.5,205.7 259.5,204 267.5,200.6 275.5,203.2 283.5,215 291.5,208.2 299.5,195.6 307.5,163.5 315.5,156.4 323.5,153 331.5,170.8 339.5,190.5 347.5,171.6 355.5,144.9 363.5,154.7 371.5,169.9 379.5,180.4 387.5,176.2 395.5,160.1 403.5,115.9 411.5,85.5 419.5,70 427.5,102.4 435.5,125.2 443.5,135.3 451.5,133.6 459.5,119.3 467.5,101 475.5,104.9 483.5,104.9 491.5,131 499.5,140.3 507.5,159.7 515.5,184.1 523.5,184.1 531.5,174.9 539.5,159.7 547.5,142 555.5,136.1 563.5,128 571.5,139.5 579.5,158 587.5,116.7 595.5,94.7 603.5,79.5 611.5,71.1 619.5,78.7 627.5,98.1 635.5,131 643.5,188.7 651.5,221.6 659.5,228.4 667.5,226.7 675.5,225.8 683.5,187.8 691.5,158.9 699.5,188.7 707.5,230 715.5,268 723.5,279.8 731.5,300.9 739.5,321.1 747.5,338 755.5,314.4 763.5,285.7 771.5,261.2 779.5,272.2 787.5,285.7 795.5,301.7 803.5,309.3 811.5,326.2 819.5,356.6 827.5,380.6 835.5,419.5 843.5,434.6 851.5,447.3 859.5,440 867.5,446.5 875.5,455.7 883.5,444.8 891.5,454.1 899.5,401.7 907.5,335.1 915.5,305.4 923.5,302.5 931.5,278.9 939.5,271.6 947.5,281.7 955.5,282.9 963.5,249.7 971.5,226.9 979.5,234.1 987.5,234.5 995.5,234.1 1003.5,229.9 1011.5,216.8 1019.5,177.3 1027.5,182.9 1035.5,200.6 1043.5,207.4 1051.5,222.6 1059.5,216.2 1067.5,220.9 1075.5,232.7 1083.5,220.9 1091.5,193.9 1099.5,186.3 1107.5,169.4 1115.5,171.1 1123.5,183.8 1131.5,217.5 1139.5,256.3 1147.5,276.9 1155.5,290.4 1163.5,292.1 1171.5,289.5 1179.5,299.2 1187.5,316 1195.5,294.6 1203.5,274.9 1211.5,265.9" fill="none" stroke="#5a6c90" stroke-width="3" stroke-linejoin="round"/>
<polyline points="3.5,306.9 11.5,336.7 19.5,362.5 27.5,357.6 35.5,324.2 43.5,316 51.5,333.5 59.5,347.7 67.5,369.2 75.5,366.7 83.5,351.7 91.5,348.5 99.5,350 107.5,359.3 115.5,353 123.5,360.1 131.5,368.4 139.5,380 147.5,387.4 155.5,361.6 163.5,340.1 171.5,341.8 179.5,310.3 187.5,301.9 195.5,325.9 203.5,408.7 211.5,430.6 219.5,429.8 227.5,391.8 235.5,342.3 243.5,292.8 251.5,267.9 259.5,266.2 267.5,262.8 275.5,265.4 283.5,277 291.5,270.4 299.5,258 307.5,226.3 315.5,219.4 323.5,216 331.5,233.6 339.5,252.9 347.5,234.4 355.5,208.1 363.5,217.7 371.5,232.7 379.5,243 387.5,238.8 395.5,223.1 403.5,179.5 411.5,149.7 419.5,134.4 427.5,166.2 435.5,188.6 443.5,198.7 451.5,197 459.5,182.9 467.5,164.8 475.5,168.7 483.5,168.7 491.5,194.4 499.5,203.5 507.5,222.7 515.5,246.7 523.5,246.7 531.5,237.5 539.5,222.7 547.5,205.2 555.5,199.5 563.5,191.4 571.5,202.7 579.5,221 587.5,180.3 595.5,158.7 603.5,143.7 611.5,135.5 619.5,142.9 627.5,162.1 635.5,194.4 643.5,251.1 651.5,283.6 659.5,290.2 667.5,288.5 675.5,287.6 683.5,250.2 691.5,221.9 699.5,251.1 707.5,291.8 715.5,329.2 723.5,340.8 731.5,361.5 739.5,381.5 747.5,398.2 755.5,374.8 763.5,346.7 771.5,322.6 779.5,333.4 787.5,346.7 795.5,362.3 803.5,369.9 811.5,386.4 819.5,416.4 827.5,440 835.5,478.3 843.5,493.2 851.5,505.7 859.5,498.4 867.5,504.9 875.5,513.9 883.5,503.2 891.5,512.3 899.5,460.7 907.5,395.3 915.5,366 923.5,363.1 931.5,339.9 939.5,332.8 947.5,342.7 955.5,343.9 963.5,311.3 971.5,288.7 979.5,295.9 987.5,296.3 995.5,295.9 1003.5,291.7 1011.5,278.8 1019.5,239.9 1027.5,245.5 1035.5,262.8 1043.5,269.6 1051.5,284.6 1059.5,278.2 1067.5,282.9 1075.5,294.5 1083.5,282.9 1091.5,256.3 1099.5,248.9 1107.5,232.2 1115.5,233.9 1123.5,246.4 1131.5,279.5 1139.5,317.7 1147.5,337.9 1155.5,351.2 1163.5,352.9 1171.5,350.3 1179.5,360 1187.5,376.4 1195.5,355.4 1203.5,336.1 1211.5,327.1" fill="none" stroke="#5a6c90" stroke-width="3" stroke-linejoin="round"/>
<rect x="1025.5" y="167.5" width="5" height="5" fill="none" stroke="#b01030" stroke-width="1"/>
</g>
<g clip-path="url(#cr)">
<line x1="4" y1="604.5" x2="1360" y2="604.5" stroke="#c0c0c0" stroke-width="1" stroke-dasharray="3 3"/>
<line x1="4" y1="643.5" x2="1360" y2="643.5" stroke="#c0c0c0" stroke-width="1" stroke-dasharray="3 3"/>
<polyline points="3.5,638 11.5,648.5 19.5,652.4 27.5,636.4 35.5,620.7 43.5,622.9 51.5,633.8 59.5,634.7 67.5,641.1 75.5,633 83.5,625.1 91.5,626.2 99.5,627.9 107.5,633 115.5,625.9 123.5,630.5 131.5,633.3 139.5,638.9 147.5,640.1 155.5,617.5 163.5,611.6 171.5,621.7 179.5,606.5 187.5,611.1 195.5,627.1 203.5,645.1 211.5,639.2 219.5,633.5 227.5,619.5 235.5,612.8 243.5,605.5 251.5,608.2 259.5,612.8 267.5,611.6 275.5,612.8 283.5,620 291.5,614.4 299.5,610.6 307.5,602.6 315.5,607.4 323.5,607.7 331.5,619.5 339.5,627.1 347.5,613.3 355.5,608.9 363.5,620.7 371.5,625.7 379.5,625.7 387.5,621.2 395.5,615.3 403.5,602.1 411.5,600.1 419.5,600.1 427.5,625.4 435.5,626.7 443.5,626.7 451.5,623.4 459.5,615.3 467.5,610.7 475.5,619 483.5,619 491.5,633 499.5,630.8 507.5,638.4 515.5,644.3 523.5,634.7 531.5,629.6 539.5,622.9 547.5,614.9 555.5,617 563.5,615.8 571.5,625.4 579.5,634.2 587.5,609 595.5,608.5 603.5,606 611.5,606.9 619.5,615.6 627.5,625.4 635.5,636.4 643.5,649.8 651.5,649.8 659.5,642.3 667.5,639.7 675.5,638.9 683.5,615.3 691.5,615.3 699.5,634.2 707.5,638.9 715.5,644.8 723.5,640.6 731.5,644.3 739.5,646 747.5,649 755.5,629.6 763.5,620.8 771.5,617.5 779.5,628.4 787.5,630.5 795.5,635 803.5,635 811.5,639.7 819.5,647.6 827.5,650.3 835.5,654.9 843.5,652 851.5,652 859.5,641.9 867.5,644.3 875.5,647 883.5,633.8 891.5,639.7 899.5,615.3 907.5,604.3 915.5,601 923.5,611.1 931.5,606 939.5,608.2 947.5,614.9 955.5,614.9 963.5,602.6 971.5,602.6 979.5,614.1 987.5,611.6 995.5,612.8 1003.5,611.4 1011.5,606 1019.5,596.7 1027.5,613.3 1035.5,620.8 1043.5,620.8 1051.5,625.9 1059.5,620 1067.5,622.9 1075.5,629.1 1083.5,619 1091.5,609.9 1099.5,611.9 1107.5,607.4 1115.5,614.9 1123.5,622 1131.5,634.7 1139.5,644.3 1147.5,642.8 1155.5,645.1 1163.5,639.7 1171.5,636.4 1179.5,642.3 1187.5,647.3 1195.5,626.2 1203.5,619 1211.5,619" fill="none" stroke="#1e90ff" stroke-width="2" stroke-linejoin="round"/>
<polyline points="3.4,624.2 11.3,624.9 59,625.4 139.9,626.6 163.5,626.2 187.1,625.4 195.5,625.4 231.9,625.7 232,625.9 275.8,624 307.8,623 356.7,622 412.3,621.2 463.9,620.8 464,620.8 499.4,621.5 603.9,621.4 632.5,620.8 644.3,622.5 667.9,623.7 684.8,622.9 695.9,623.4 696,622.9 723,624.2 739.8,625.7 810.6,625.9 827.5,627.4 844.3,628.8 867.9,629.9 906.7,629.8 916.8,628.3 927.9,628.1 928,628.3 939.8,627.1 963.4,626.1 988.7,624.9 1012.3,623.9 1059.5,623.7 1067.9,622.9 1084.8,622.9 1116.8,622 1120,622 1139.4,623.2 1170.6,624.2 1211.9,624.9" fill="none" stroke="#a0522d" stroke-width="2" stroke-linejoin="round"/>
</g>
<g clip-path="url(#cs)">
<line x1="4" y1="697.5" x2="1360" y2="697.5" stroke="#c0c0c0" stroke-width="1" stroke-dasharray="3 3"/>
<line x1="4" y1="760.5" x2="1360" y2="760.5" stroke="#c0c0c0" stroke-width="1" stroke-dasharray="3 3"/>
<polyline points="3.5,762.5 11.5,765.9 19.5,765.9 27.5,756.6 35.5,737.2 43.5,718.7 51.5,714.5 59.5,725.4 67.5,745.6 75.5,749 83.5,740.6 91.5,722 99.5,711.9 107.5,717 115.5,723.7 123.5,736.4 131.5,745.6 139.5,755.7 147.5,760.8 155.5,733 163.5,707.2 171.5,704.7 179.5,700.1 187.5,701 195.5,708.6 203.5,746.5 211.5,762.5 219.5,757.4 227.5,729.6 235.5,706.9 243.5,682.1 251.5,681.6 259.5,687.5 267.5,698.4 275.5,708.6 283.5,731.3 291.5,744.8 299.5,739.7 307.5,701 315.5,695.9 323.5,696.4 331.5,720.4 339.5,740.1 347.5,738.4 355.5,717 363.5,706.4 371.5,717 379.5,744.8 387.5,752.9 395.5,742.3 403.5,711.9 411.5,689.2 419.5,688 427.5,707.7 435.5,733.8 443.5,760.8 451.5,763.3 459.5,751.5 467.5,727.1 475.5,711.9 483.5,711.9 491.5,740.2 499.5,748.2 507.5,765.9 515.5,766.4 523.5,768.1 531.5,754.9 539.5,730.5 547.5,704.3 555.5,695.9 563.5,695.9 571.5,710.2 579.5,734.2 587.5,724.6 595.5,712.8 603.5,692.9 611.5,695.1 619.5,698.4 627.5,718.7 635.5,749 643.5,776.8 651.5,776.8 659.5,771.8 667.5,763.3 675.5,754.9 683.5,727.6 691.5,708.9 699.5,712.4 707.5,740.6 715.5,769.7 723.5,771.8 731.5,771.8 739.5,767 747.5,769.7 755.5,750.7 763.5,717.8 771.5,691.7 779.5,705.2 787.5,720.4 795.5,746.8 803.5,759.1 811.5,770.9 819.5,771.4 827.5,773.4 835.5,776 843.5,770.4 851.5,767 859.5,752.4 867.5,743.1 875.5,739.4 883.5,735.9 891.5,741.9 899.5,715.3 907.5,699.3 915.5,685.8 923.5,692.5 931.5,693.4 939.5,695.9 947.5,700.1 955.5,718.7 963.5,722 971.5,703 979.5,703 987.5,713.6 995.5,723.7 1003.5,723.7 1011.5,716.1 1019.5,695.9 1027.5,695.9 1035.5,711.9 1043.5,733 1051.5,749.8 1059.5,749.8 1067.5,749.8 1075.5,745.6 1083.5,737.2 1091.5,712.8 1099.5,699.3 1107.5,695.6 1115.5,701 1123.5,709.4 1131.5,738 1139.5,763.3 1147.5,768.9 1155.5,768.9 1163.5,767.5 1171.5,761.6 1179.5,754.9 1187.5,756.6 1195.5,736.4 1203.5,712.8 1211.5,690.5" fill="none" stroke="#008080" stroke-width="2" stroke-linejoin="round"/>
<polyline points="3.5,756.9 11.5,761.6 19.5,763 27.5,760.3 35.5,749.8 43.5,735.5 51.5,724.2 59.5,724.1 67.5,734.7 75.5,741.9 83.5,741.9 91.5,732.1 99.5,722.5 107.5,719.8 115.5,720.9 123.5,728.8 131.5,736.4 139.5,746.5 147.5,752.9 155.5,744.8 163.5,727.9 171.5,715.3 179.5,707.2 187.5,704.8 195.5,706 203.5,724.6 211.5,743.9 219.5,751.5 227.5,741.4 235.5,725.9 243.5,704 251.5,692.9 259.5,691.7 267.5,694.2 275.5,702.7 283.5,717 291.5,730.5 299.5,735.5 307.5,718.7 315.5,707.7 323.5,703 331.5,711.9 339.5,724.9 347.5,732.1 355.5,723.7 363.5,716.1 371.5,717.5 379.5,731.3 387.5,742.8 395.5,742.8 403.5,725.4 411.5,708.6 419.5,698.4 427.5,703 435.5,718.7 443.5,738.9 451.5,751 459.5,751 467.5,738.9 475.5,725.4 483.5,718.7 491.5,728.8 499.5,738.9 507.5,751.9 515.5,759.1 523.5,764.2 531.5,760 539.5,743.9 547.5,724.6 555.5,710.2 563.5,703 571.5,707.7 579.5,720.4 587.5,722 595.5,717.8 603.5,704.3 611.5,700.1 619.5,700.1 627.5,710.2 635.5,727.9 643.5,751.5 651.5,765 659.5,768.1 667.5,766.4 675.5,760.8 683.5,743.1 691.5,726.3 699.5,719.8 707.5,728.8 715.5,749 723.5,760.8 731.5,765.9 739.5,766.4 747.5,767.5 755.5,756.6 763.5,737.2 771.5,715.3 779.5,710.7 787.5,717.5 795.5,733 803.5,746.5 811.5,759.1 819.5,765 827.5,768.7 835.5,771.8 843.5,771.4 851.5,769.7 859.5,761.3 867.5,752.4 875.5,746.1 883.5,741.4 891.5,740.9 899.5,727.9 907.5,713.6 915.5,699.3 923.5,695.9 931.5,694.7 939.5,695.1 947.5,698.9 955.5,707.7 963.5,714.5 971.5,709.4 979.5,706 987.5,709.4 995.5,716.1 1003.5,719.8 1011.5,718.2 1019.5,708.6 1027.5,702.3 1035.5,706.9 1043.5,719.5 1051.5,734.7 1059.5,742.3 1067.5,746.1 1075.5,746.1 1083.5,742.3 1091.5,727.9 1099.5,714.1 1107.5,704.3 1115.5,703 1123.5,706 1131.5,722.9 1139.5,743.1 1147.5,756.6 1155.5,763.7 1163.5,765 1171.5,763 1179.5,759.1 1187.5,757.4 1195.5,748.2 1203.5,731.3 1211.5,710.2" fill="none" stroke="#f00" stroke-width="2" stroke-linejoin="round"/>
</g>
<g fill="#000">
<rect x="2" y="2" width="1359" height="1"/><rect x="2" y="571" width="1359" height="1"/><rect x="2" y="573" width="1359" height="1"/><rect x="2" y="673" width="1359" height="1"/><rect x="2" y="675" width="1359" height="1"/><rect x="2" y="782" width="1359" height="1"/><rect x="2" y="2" width="1" height="570"/><rect x="2" y="573" width="1" height="101"/><rect x="2" y="675" width="1" height="108"/><rect x="1360" y="2" width="1" height="570"/><rect x="1360" y="573" width="1" height="101"/><rect x="1360" y="675" width="1" height="108"/>
<rect x="1361" y="575" width="1" height="1"/><rect x="1361" y="672" width="1" height="1"/><rect x="1361" y="677" width="1" height="1"/><rect x="1361" y="781" width="1" height="1"/><rect x="1361" y="13" width="3" height="1"/><rect x="1361" y="62" width="3" height="1"/><rect x="1361" y="111" width="3" height="1"/><rect x="1361" y="160" width="3" height="1"/><rect x="1361" y="210" width="3" height="1"/><rect x="1361" y="258" width="3" height="1"/><rect x="1361" y="307" width="3" height="1"/><rect x="1361" y="356" width="3" height="1"/><rect x="1361" y="406" width="3" height="1"/><rect x="1361" y="455" width="3" height="1"/><rect x="1361" y="503" width="3" height="1"/><rect x="1361" y="552" width="3" height="1"/><rect x="3" y="783" width="1" height="3"/><rect x="99" y="783" width="1" height="3"/><rect x="195" y="783" width="1" height="3"/><rect x="291" y="783" width="1" height="3"/><rect x="387" y="783" width="1" height="3"/><rect x="483" y="783" width="1" height="3"/><rect x="579" y="783" width="1" height="3"/><rect x="675" y="783" width="1" height="3"/><rect x="771" y="783" width="1" height="3"/><rect x="867" y="783" width="1" height="3"/><rect x="963" y="783" width="1" height="3"/><rect x="1059" y="783" width="1" height="3"/><rect x="1155" y="783" width="1" height="3"/>
</g>
<rect x="1361" y="279" width="57" height="14" fill="#000"/>
</g>
<g>
<text x="7.5" y="17" textLength="42.5" lengthAdjust="spacingAndGlyphs">S#,Daily</text><text x="59.2" y="17" textLength="45" lengthAdjust="spacingAndGlyphs">1020.75</text><text x="109.2" y="17" textLength="45" lengthAdjust="spacingAndGlyphs">1023.00</text><text x="159" y="17" textLength="45" lengthAdjust="spacingAndGlyphs">1020.00</text><text x="208.7" y="17" textLength="45" lengthAdjust="spacingAndGlyphs">1022.00</text>
<text x="7" y="589" textLength="34.8" lengthAdjust="spacingAndGlyphs">RSI(7)</text><text x="46" y="589" textLength="45.8" lengthAdjust="spacingAndGlyphs">54.3109</text><text x="100.3" y="589" textLength="60" lengthAdjust="spacingAndGlyphs">-&gt;MA(100)</text><text x="164.5" y="589" textLength="46" lengthAdjust="spacingAndGlyphs">48.4408</text>
<text x="7.3" y="691" textLength="71" lengthAdjust="spacingAndGlyphs">Stoch(5,3,3)</text><text x="82" y="691" textLength="45" lengthAdjust="spacingAndGlyphs">86.9081</text><text x="132" y="691" textLength="45.3" lengthAdjust="spacingAndGlyphs">67.6774</text>
<text x="1368" y="17.7" textLength="44" lengthAdjust="spacingAndGlyphs">1094.80</text><text x="1368" y="66.5" textLength="44" lengthAdjust="spacingAndGlyphs">1081.80</text><text x="1368" y="115.3" textLength="44" lengthAdjust="spacingAndGlyphs">1068.80</text><text x="1368" y="164.1" textLength="44" lengthAdjust="spacingAndGlyphs">1055.80</text><text x="1368" y="213.9" textLength="44" lengthAdjust="spacingAndGlyphs">1042.55</text><text x="1368" y="262.7" textLength="44" lengthAdjust="spacingAndGlyphs">1029.55</text><text x="1368" y="311.5" textLength="44" lengthAdjust="spacingAndGlyphs">1016.55</text><text x="1368" y="360.3" textLength="44" lengthAdjust="spacingAndGlyphs">1003.55</text><text x="1368" y="410.1" textLength="44" lengthAdjust="spacingAndGlyphs">990.30</text><text x="1368" y="458.9" textLength="44" lengthAdjust="spacingAndGlyphs">977.30</text><text x="1368" y="507.7" textLength="44" lengthAdjust="spacingAndGlyphs">964.30</text><text x="1368" y="556.5" textLength="44" lengthAdjust="spacingAndGlyphs">951.30</text>
<text x="1368" y="290.5" textLength="44" lengthAdjust="spacingAndGlyphs" style="fill:#fff">1022.00</text>
<text class="b" x="1237.5" y="37.8" textLength="121.5" lengthAdjust="spacingAndGlyphs" xml:space="preserve">(EXT 1.382)  1087.76</text><text class="b" x="1237.5" y="74.8" textLength="121.5" lengthAdjust="spacingAndGlyphs" xml:space="preserve">(EXT 1.272)  1077.75</text><text class="b" x="1288" y="167.8" textLength="71" lengthAdjust="spacingAndGlyphs" xml:space="preserve">0.0- 1053.00</text><text class="b" x="1280.5" y="248.8" textLength="78.5" lengthAdjust="spacingAndGlyphs" xml:space="preserve">23.6- 1031.52</text><text class="b" x="1280.5" y="298.8" textLength="78.5" lengthAdjust="spacingAndGlyphs" xml:space="preserve">38.2- 1018.24</text><text class="b" x="1280.5" y="338.8" textLength="78.5" lengthAdjust="spacingAndGlyphs" xml:space="preserve">50.0- 1007.50</text><text class="b" x="1287.5" y="378.8" textLength="71.5" lengthAdjust="spacingAndGlyphs" xml:space="preserve">61.8- 996.76</text><text class="b" x="1291" y="438.8" textLength="68" lengthAdjust="spacingAndGlyphs" xml:space="preserve">79.4 980.75</text><text class="b" x="1281" y="509.8" textLength="78" lengthAdjust="spacingAndGlyphs" xml:space="preserve">100.0- 962.00</text>
<text x="1364" y="587">100</text><text x="1364" y="609">70</text><text x="1364" y="648">30</text><text x="1364" y="670">0</text><text x="1364" y="689">100</text><text x="1364" y="702">80</text><text x="1364" y="765">20</text><text x="1364" y="779">0</text>
<text x="2.7" y="798" textLength="69.3" lengthAdjust="spacingAndGlyphs">28 Feb 2025</text><text x="98.7" y="798" textLength="68.1" lengthAdjust="spacingAndGlyphs">18 Mar 2025</text><text x="194.7" y="798" textLength="61" lengthAdjust="spacingAndGlyphs">3 Apr 2025</text><text x="290.7" y="798" textLength="68.1" lengthAdjust="spacingAndGlyphs">22 Apr 2025</text><text x="386.7" y="798" textLength="64" lengthAdjust="spacingAndGlyphs">8 May 2025</text><text x="482.7" y="798" textLength="71.1" lengthAdjust="spacingAndGlyphs">27 May 2025</text><text x="578.7" y="798" textLength="69.1" lengthAdjust="spacingAndGlyphs">12 Jun 2025</text><text x="674.7" y="798" textLength="56.4" lengthAdjust="spacingAndGlyphs">1 Jul 2025</text><text x="770.7" y="798" textLength="63.1" lengthAdjust="spacingAndGlyphs">18 Jul 2025</text><text x="866.7" y="798" textLength="64.8" lengthAdjust="spacingAndGlyphs">5 Aug 2025</text><text x="962.7" y="798" textLength="72.3" lengthAdjust="spacingAndGlyphs">21 Aug 2025</text><text x="1058.7" y="798" textLength="63.8" lengthAdjust="spacingAndGlyphs">8 Sep 2025</text><text x="1154.7" y="798" textLength="71.6" lengthAdjust="spacingAndGlyphs">24 Sep 2025</text>
<text x="1210" y="232" style="font-size:16px;fill:#dc143c">200 Günlük H.O</text>
<text x="1227" y="278.3" style="font-size:16px;fill:#ff8c00">100 Günlük H.O</text>
</g>
</svg>
</body></html>
